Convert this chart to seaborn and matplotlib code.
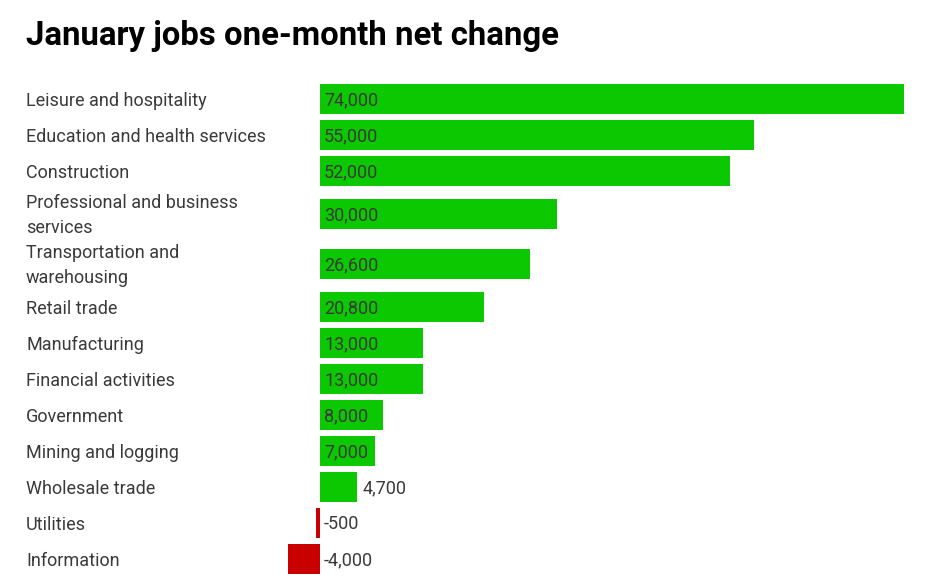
import numpy as np
import pandas as pd
import matplotlib.pyplot as plt
import matplotlib.transforms as mtransforms
import seaborn as sns

# Data
categories = [
    "Leisure and hospitality",
    "Education and health services",
    "Construction",
    "Professional and business\nservices",
    "Transportation and\nwarehousing",
    "Retail trade",
    "Manufacturing",
    "Financial activities",
    "Government",
    "Mining and logging",
    "Wholesale trade",
    "Utilities",
    "Information",
]
values = [74000, 55000, 52000, 30000, 26600, 20800, 13000, 13000, 8000, 7000, 4700, -500, -4000]

GREEN = "#0bc800"
RED = "#c80000"
TEXT = "#3a3a3a"

W, H = 925, 583
sns.set_style("white")
plt.rcParams["font.family"] = ["Roboto", "DejaVu Sans"]

# row heights grow for two-line labels, so bars sit in pixel units
row_h = [36 if "\n" not in c else 50 for c in categories]
pos = [99.0]
for i in range(1, len(categories)):
    pos.append(pos[-1] + (row_h[i - 1] + row_h[i]) / 2)

df = pd.DataFrame({
    "category": categories,
    "value": values,
    "pos": pos,
    "sign": ["pos" if v >= 0 else "neg" for v in values],
})

fig = plt.figure(figsize=(W / 100, H / 100), dpi=100)
zero_px, end_px = 320, 904
scale = (end_px - zero_px) / max(values)
left_px = 280
ax = fig.add_axes([left_px / W, 0, (end_px - left_px) / W, 1])

sns.barplot(data=df, x="value", y="pos", hue="sign", orient="y", native_scale=True,
            palette={"pos": GREEN, "neg": RED}, width=30 / 36, dodge=False,
            legend=False, saturation=1, linewidth=0, ax=ax)

ax.set_xlim((left_px - zero_px) / scale, max(values))
ax.set_ylim(H, 0)
ax.axis("off")

# value labels: inside the bar when it fits, otherwise just past the end
pad = 4 / scale
for v, y in zip(values, pos):
    label = f"{v:,}"
    x = pad if (v > 6000 or v < 0) else v + pad * 1.3
    ax.text(x, y + 1, label, ha="left", va="center", fontsize=13, color=TEXT)

# category labels on the left, in figure x / data y
blend = mtransforms.blended_transform_factory(fig.transFigure, ax.transData)
for c, y in zip(categories, pos):
    fig.text(26 / W, y + 1.5, c, transform=blend, ha="left", va="center",
             fontsize=13, color=TEXT, linespacing=1.45)

fig.text(26 / W, 1 - 36 / H, "January jobs one-month net change", ha="left", va="center",
         fontsize=23.7, fontweight="bold", color="black")

fig.savefig("out.png", dpi=100)
